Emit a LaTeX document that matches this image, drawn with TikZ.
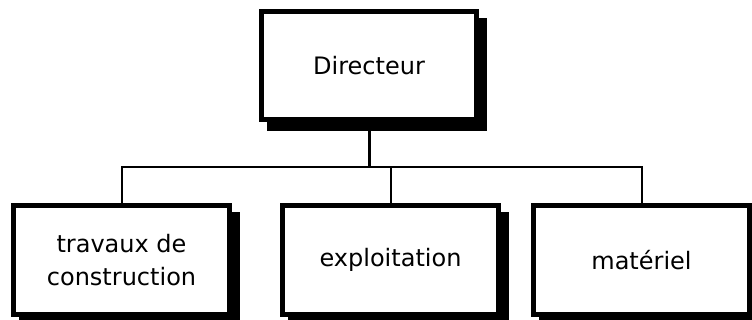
\documentclass[tikz,border=0pt]{standalone}
\usepackage{fontspec}
\setmainfont{DejaVu Sans}
\usetikzlibrary{shadows}
\begin{document}
\begin{tikzpicture}[x=1pt,y=1pt,
  box/.style={draw=black, line width=5pt, fill=white, minimum width=216pt, minimum height=109pt,
    inner sep=0pt, align=center, font=\fontsize{24}{33}\selectfont,
    general shadow={draw=black, fill=black, line width=5pt, shadow xshift=8pt, shadow yshift=-9pt}},
  link/.style={line width=2pt},
  stem/.style={line width=3pt}]
\useasboundingbox (0,0) rectangle (752,-320);
\clip (0,0) rectangle (752,-320);
\node[box, minimum width=215pt, minimum height=107.5pt] (dir) at (369,-65.75) {Directeur};
\node[box] (c1) at (121.5,-260) {travaux de\\construction};
\node[box] (c2) at (390.5,-260) {exploitation};
\node[box] (c3) at (641.5,-260) {matériel};
\coordinate (bus) at (369,-167);
\draw[stem] (dir.south) -- (bus);
\draw[link] (c1.north) -- (c1.north |- bus) -- (c3.north |- bus) -- (c3.north);
\draw[link] (c2.north) -- (c2.north |- bus);
\end{tikzpicture}
\end{document}
